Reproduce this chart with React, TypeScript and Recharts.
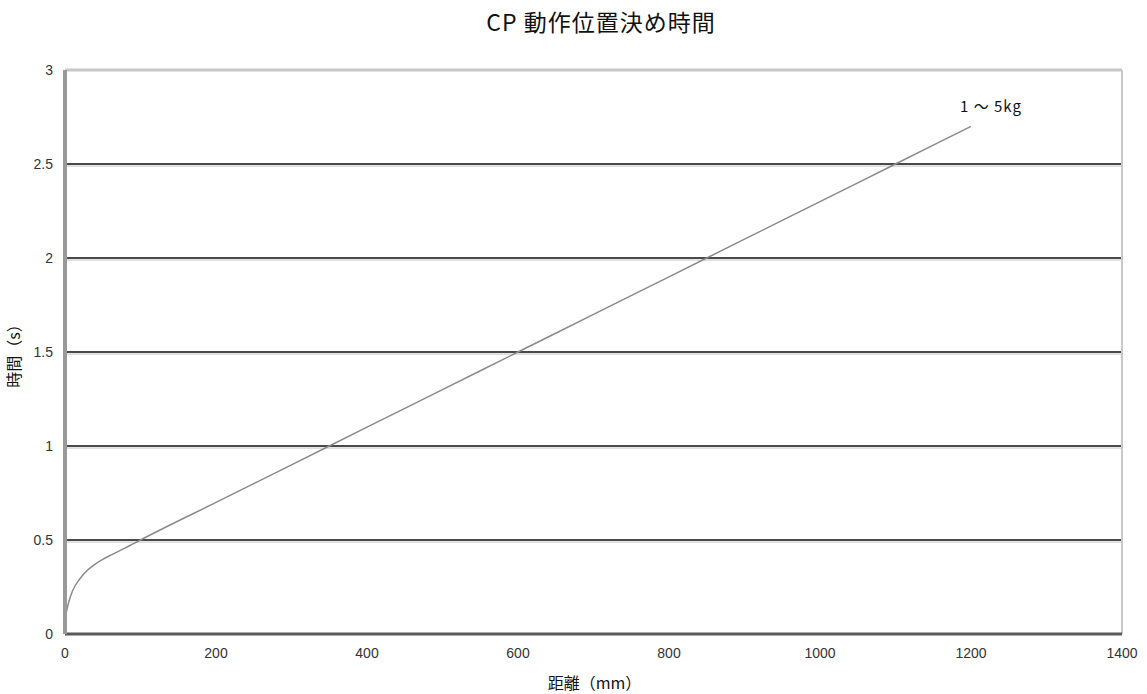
import React from "react";
import {
  LineChart,
  Line,
  XAxis,
  YAxis,
  ReferenceLine,
  LabelList,
  Label,
} from "recharts";

// distance (mm) and positioning time (s)
const distances = [0, 2, 5, 10, 20, 30, 40, 50, 60, 70, 80, 90, 100, 200, 300, 400, 500, 600, 700, 800, 900, 1000, 1100, 1200];
const times = [0.08, 0.12, 0.17, 0.23, 0.295, 0.34, 0.372, 0.397, 0.418, 0.438, 0.458, 0.479, 0.5, 0.7, 0.9, 1.1, 1.3, 1.5, 1.7, 1.9, 2.1, 2.3, 2.5, 2.7];
const xTicks = [0, 200, 400, 600, 800, 1000, 1200, 1400];
const yTicks = [0, 0.5, 1, 1.5, 2, 2.5, 3];
const gridValues = [0.5, 1, 1.5, 2, 2.5];
const seriesName = "1 ～ 5kg";

const data = distances.map((d, i) => ({ dist: d, time: times[i] }));

const jp = '"Noto Sans CJK JP", "Noto Sans", sans-serif';
const tickStyle = { fontSize: 14, fontFamily: "Liberation Sans, sans-serif", fill: "#333" };

// series name next to the end of the line
const EndLabel = (props: any) => {
  const { x, y, index } = props;
  if (index !== data.length - 1) return null;
  return (
    <text x={x - 11} y={y - 14} fontSize={15} letterSpacing={1} fontFamily={jp} fill="#111">
      {seriesName}
    </text>
  );
};

export default function App() {
  return (
    <div style={{ position: "absolute", left: 0, top: 0, width: 1147, height: 694, background: "#fff" }}>
      <div
        style={{
          position: "absolute",
          top: 6,
          left: 0,
          width: 1202,
          textAlign: "center",
          fontFamily: jp,
          fontSize: 23,
          lineHeight: "30px",
          letterSpacing: 1,
          color: "#111",
        }}
      >
        CP 動作位置決め時間
      </div>
      <LineChart
        width={1147}
        height={694}
        data={data}
        margin={{ top: 70, right: 25, bottom: 0, left: 0 }}
      >
        {gridValues.map((v) => (
          <ReferenceLine key={v} y={v} stroke="#4a4a4a" strokeWidth={2} />
        ))}
        {gridValues.map((v) => (
          <ReferenceLine key={"s" + v} y={v - 0.011} stroke="#c4c4c4" strokeWidth={1} />
        ))}
        <ReferenceLine y={3} stroke="#c8c8c8" strokeWidth={3} />
        <ReferenceLine x={1400} stroke="#c8c8c8" strokeWidth={2} />
        <XAxis
          dataKey="dist"
          type="number"
          domain={[0, 1400]}
          ticks={xTicks}
          interval={0}
          tickLine={false}
          tickSize={0}
          tickMargin={14}
          height={60}
          axisLine={{ stroke: "#5a5a5a", strokeWidth: 3 }}
          tick={tickStyle}
        >
          <Label
            value="距離（mm）"
            position="insideBottom"
            offset={5}
            dx={1}
            style={{ fontSize: 16, fontFamily: jp, fill: "#111" }}
          />
        </XAxis>
        <YAxis
          type="number"
          domain={[0, 3]}
          ticks={yTicks}
          interval={0}
          width={65}
          tickLine={false}
          tickSize={0}
          tickMargin={12}
          axisLine={{ stroke: "#999", strokeWidth: 4 }}
          tick={tickStyle}
        >
          <Label
            value="時間（s）"
            angle={-90}
            position="insideLeft"
            offset={14}
            style={{ fontSize: 16, fontFamily: jp, fill: "#111", textAnchor: "middle" }}
          />
        </YAxis>
        <Line
          dataKey="time"
          type="monotone"
          stroke="#8a8a8a"
          strokeWidth={1.5}
          dot={false}
          isAnimationActive={false}
        >
          <LabelList dataKey="time" content={<EndLabel />} />
        </Line>
      </LineChart>
    </div>
  );
}
